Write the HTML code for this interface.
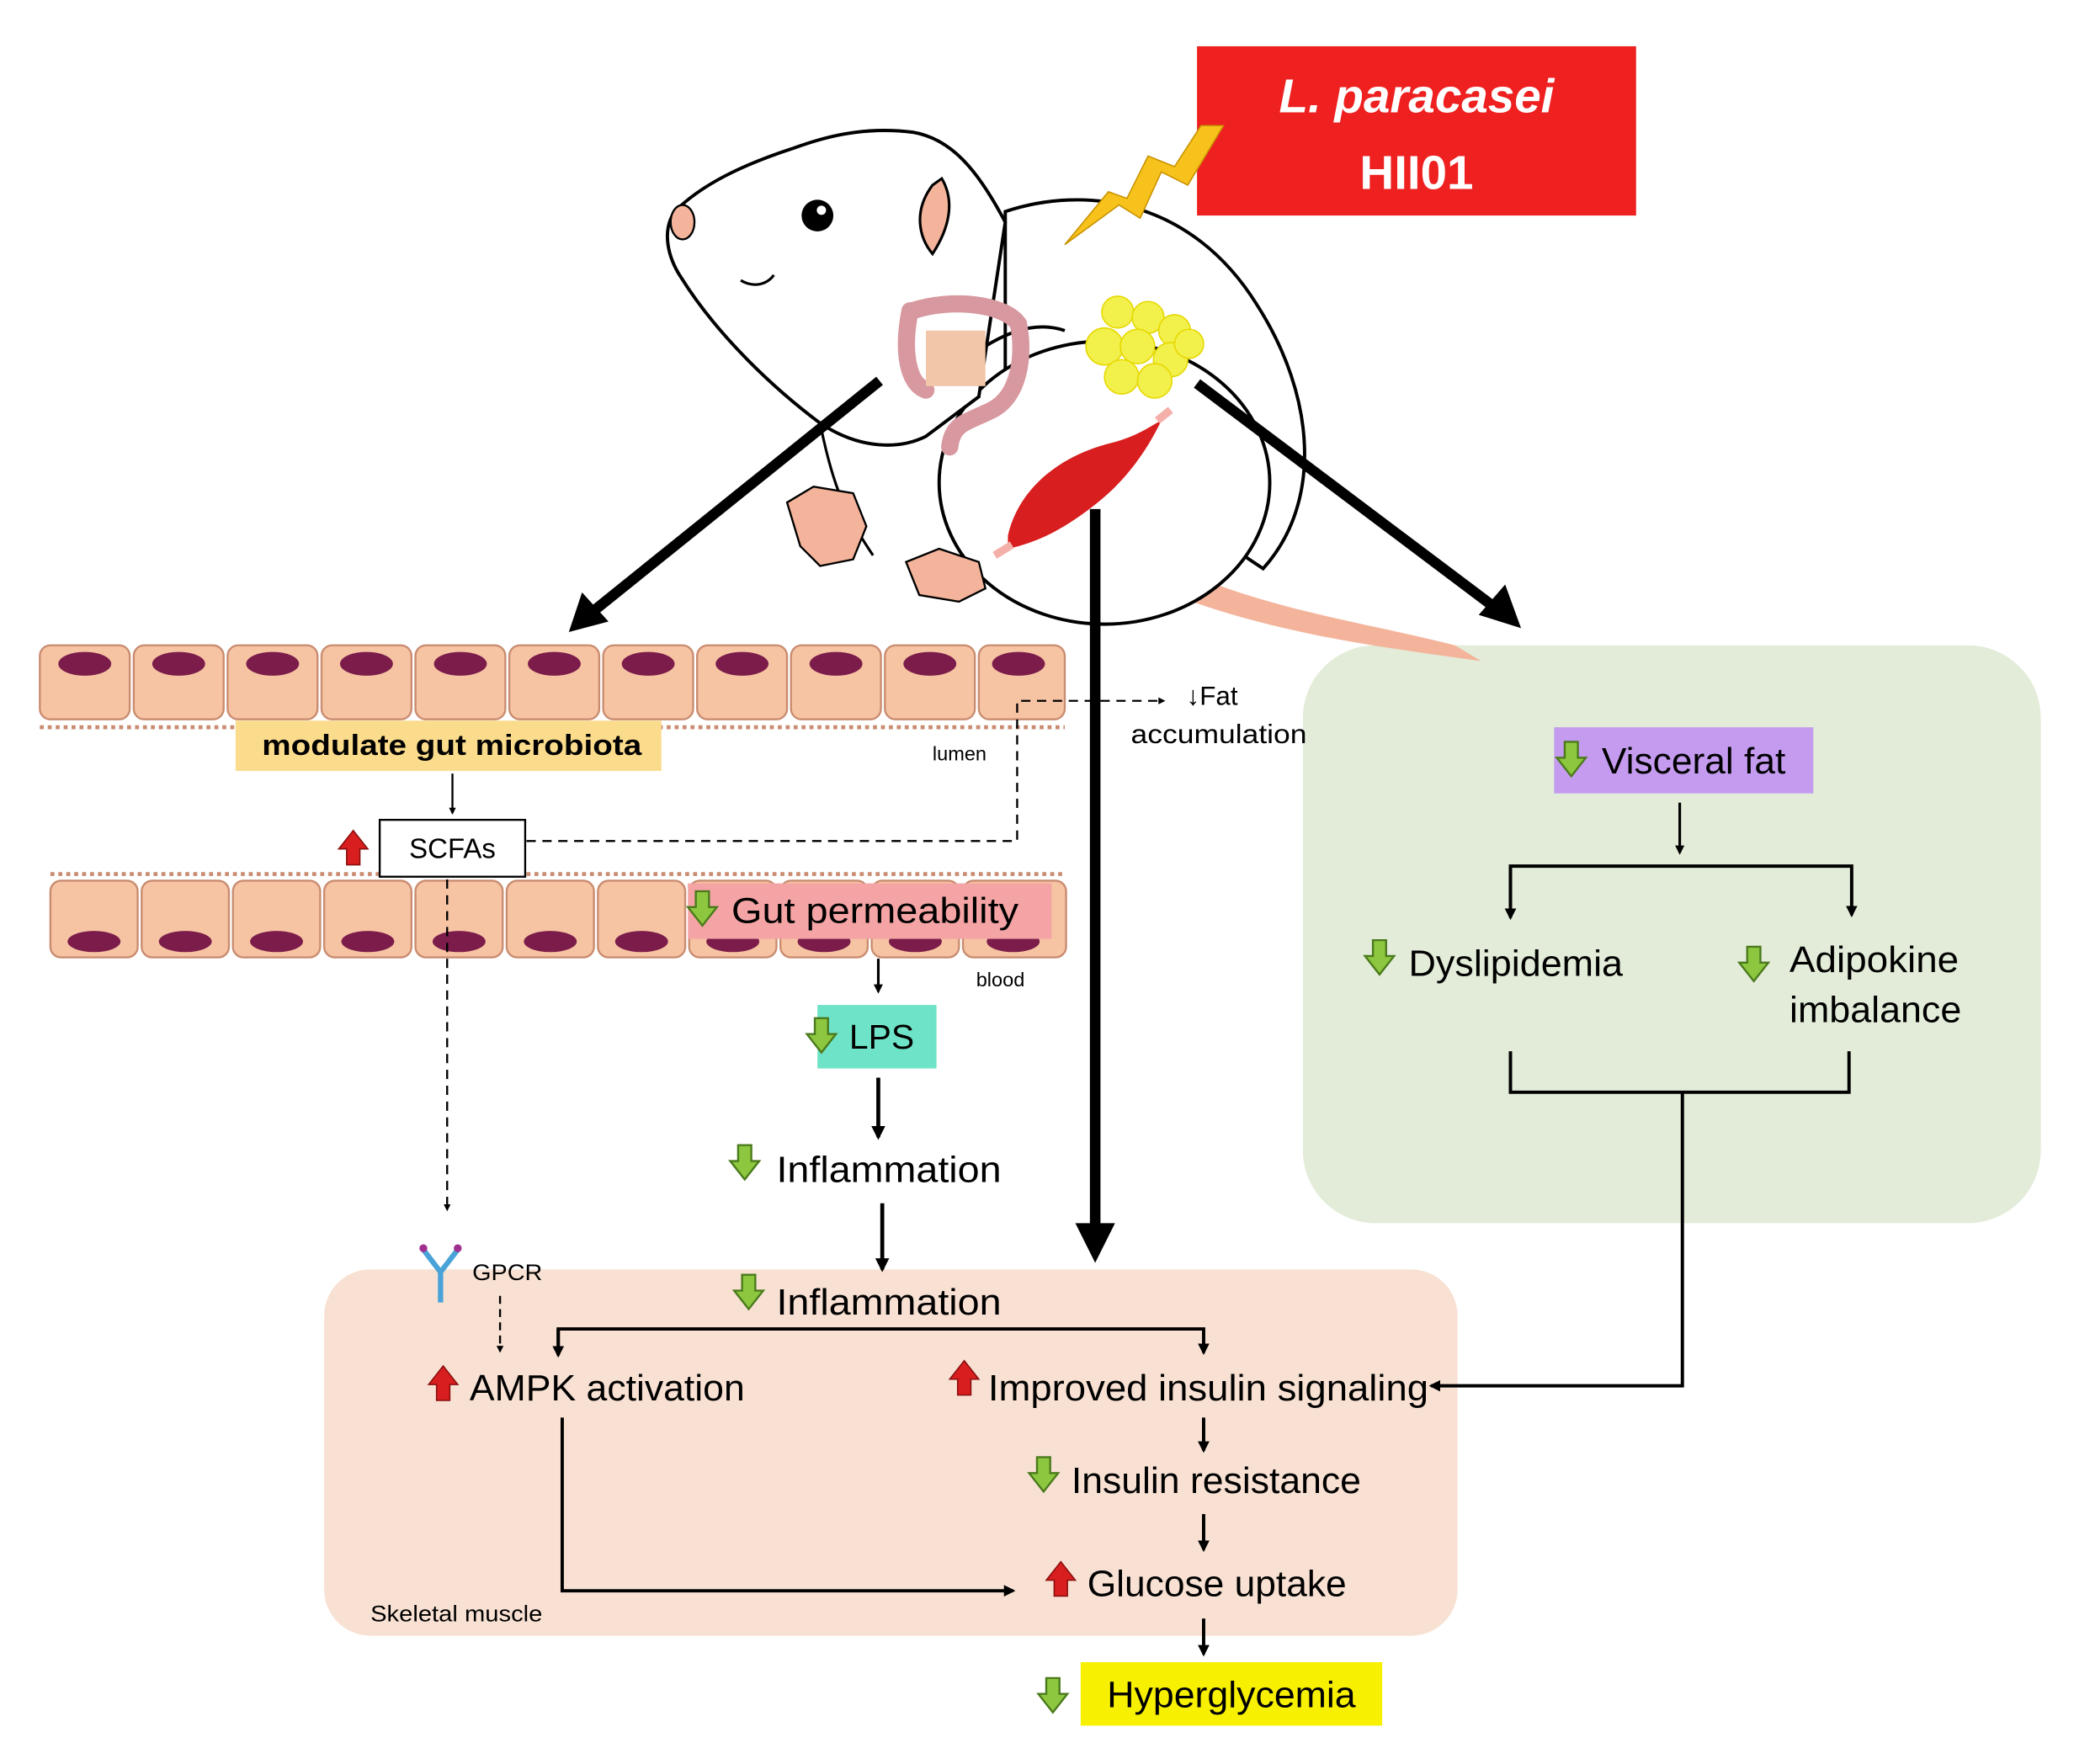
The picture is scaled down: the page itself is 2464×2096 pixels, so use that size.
<!DOCTYPE html>
<html><head><meta charset="utf-8"><style>
html,body{margin:0;padding:0;background:#fff}
svg{display:block}
text{font-family:"Liberation Sans",sans-serif}
</style></head><body>
<svg width="2464" height="2096" viewBox="0 0 1568 1334" xmlns="http://www.w3.org/2000/svg">
<defs>
<marker id="ahb" viewBox="0 0 10 10" refX="8" refY="5" markerWidth="3.5" markerHeight="3.5" orient="auto"><path d="M0,0 L10,5 L0,10 z" fill="#000"/></marker>
<g id="gdn"><path d="M-5,-14 h10 v12 h6 l-11,14 l-11,-14 h6 z" fill="#8dc63f" stroke="#4a7a1c" stroke-width="1.5"/></g>
<g id="rup"><path d="M-5,14 h10 v-12 h6 l-11,-14 l-11,14 h6 z" fill="#d81e1e" stroke="#8a0f0f" stroke-width="1"/></g>
</defs>
<rect width="1568" height="1334" fill="#fff"/>

<!-- panels -->
<rect x="985" y="488" width="558" height="437" rx="55" fill="#e2ecd9"/>
<rect x="245" y="960" width="857" height="277" rx="35" fill="#f8e1d3"/>

<!-- mouse -->
<path d="M880,425 C950,460 1030,470 1100,488 L1120,500 C1050,490 960,480 875,445 Z" fill="#f4b49b"/>
<path d="M760,160 C820,140 900,150 950,230 C995,300 1000,380 955,430 L760,300 Z" fill="#fff" stroke="#000" stroke-width="2.5"/>
<ellipse cx="835" cy="365" rx="125" ry="107" fill="#fff" stroke="#000" stroke-width="2.5"/>
<path d="M760,168 C740,130 720,105 690,100 C650,95 620,105 600,112 C560,125 530,140 510,160 C500,175 505,195 515,210 C540,250 580,290 620,320 C650,340 680,340 700,330 L740,300 Z" fill="#fff" stroke="#000" stroke-width="2.5"/>
<path d="M620,320 C630,370 640,390 660,420" fill="none" stroke="#000" stroke-width="2"/>
<path d="M740,265 C770,245 790,245 805,250" fill="none" stroke="#000" stroke-width="2.5"/>
<ellipse cx="516" cy="168" rx="9" ry="13" fill="#f4b49b" stroke="#000" stroke-width="1.5"/>
<path d="M705,140 C690,160 695,180 705,192 C718,172 722,152 712,135 Z" fill="#f4b49b" stroke="#000" stroke-width="2"/>
<circle cx="618" cy="163" r="12" fill="#000"/><circle cx="621" cy="159" r="3.5" fill="#fff"/>
<path d="M560,212 C570,218 580,215 585,208" fill="none" stroke="#000" stroke-width="2"/>
<!-- paws -->
<path d="M595,380 l20,-12 l30,5 l10,25 l-10,25 l-25,5 l-15,-15 z" fill="#f4b49b" stroke="#000" stroke-width="1.5"/>
<path d="M685,425 l25,-10 l30,10 l5,20 l-20,10 l-30,-5 z" fill="#f4b49b" stroke="#000" stroke-width="1.5"/>
<!-- gut -->
<path d="M688,235 C682,265 686,290 700,295 M690,235 C720,225 760,230 770,245 C775,270 770,300 750,310 C730,320 720,320 718,338" fill="none" stroke="#d8989f" stroke-width="13" stroke-linecap="round"/>
<rect x="700" y="250" width="45" height="42" fill="#f2c6a8"/>
<!-- fat -->
<g fill="#f2f04a" stroke="#e6d800" stroke-width="1">
<circle cx="845" cy="236" r="12"/><circle cx="868" cy="240" r="12"/><circle cx="888" cy="250" r="12"/>
<circle cx="835" cy="262" r="14"/><circle cx="860" cy="262" r="13"/><circle cx="885" cy="272" r="13"/>
<circle cx="848" cy="285" r="13"/><circle cx="873" cy="288" r="13"/><circle cx="899" cy="260" r="11"/>
</g>
<!-- muscle -->
<path d="M762,405 C770,370 800,345 840,335 C860,330 870,322 878,318 C870,335 855,360 830,380 C805,400 785,410 762,415 Z" fill="#d81e1e"/>
<path d="M875,318 L885,310 M765,412 L752,420" stroke="#f4b0a8" stroke-width="6"/>

<!-- red title box -->
<rect x="905" y="35" width="332" height="128" fill="#ee2020"/>
<text x="1071" y="85" text-anchor="middle" fill="#fff" font-size="36" font-weight="bold" font-style="italic">L. paracasei</text>
<text x="1071" y="143" text-anchor="middle" fill="#fff" font-size="36" font-weight="bold">HII01</text>
<!-- lightning -->
<path d="M925,95 L898,140 L878,130 L862,165 L846,155 L805,185 L838,145 L852,150 L868,118 L888,126 L908,95 Z" fill="#f7c21b" stroke="#c89200" stroke-width="1"/>

<!-- big arrows -->
<line x1="665" y1="288" x2="445" y2="465" stroke="#000" stroke-width="8"/>
<path d="M430,478 L440,448 L460,470 Z" fill="#000"/>
<line x1="905" y1="290" x2="1135" y2="463" stroke="#000" stroke-width="8"/>
<path d="M1150,475 L1118,465 L1138,442 Z" fill="#000"/>
<line x1="828" y1="385" x2="828" y2="928" stroke="#000" stroke-width="8"/>
<path d="M813,925 L843,925 L828,955 Z" fill="#000"/>

<!-- epithelium top -->
<g fill="#f6c3a3" stroke="#c98c70" stroke-width="1.5">
<rect x="30" y="488" width="68" height="56" rx="8"/><rect x="101" y="488" width="68" height="56" rx="8"/><rect x="172" y="488" width="68" height="56" rx="8"/><rect x="243" y="488" width="68" height="56" rx="8"/><rect x="314" y="488" width="68" height="56" rx="8"/><rect x="385" y="488" width="68" height="56" rx="8"/><rect x="456" y="488" width="68" height="56" rx="8"/><rect x="527" y="488" width="68" height="56" rx="8"/><rect x="598" y="488" width="68" height="56" rx="8"/><rect x="669" y="488" width="68" height="56" rx="8"/><rect x="740" y="488" width="65" height="56" rx="8"/>
</g>
<g fill="#7b1c4a">
<ellipse cx="64" cy="502" rx="20" ry="9"/><ellipse cx="135" cy="502" rx="20" ry="9"/><ellipse cx="206" cy="502" rx="20" ry="9"/><ellipse cx="277" cy="502" rx="20" ry="9"/><ellipse cx="348" cy="502" rx="20" ry="9"/><ellipse cx="419" cy="502" rx="20" ry="9"/><ellipse cx="490" cy="502" rx="20" ry="9"/><ellipse cx="561" cy="502" rx="20" ry="9"/><ellipse cx="632" cy="502" rx="20" ry="9"/><ellipse cx="703" cy="502" rx="20" ry="9"/><ellipse cx="770" cy="502" rx="20" ry="9"/>
</g>
<line x1="30" y1="550" x2="805" y2="550" stroke="#c98c70" stroke-width="3" stroke-dasharray="3,3"/>
<!-- epithelium bottom -->
<line x1="38" y1="661" x2="806" y2="661" stroke="#c98c70" stroke-width="3" stroke-dasharray="3,3"/>
<g fill="#f6c3a3" stroke="#c98c70" stroke-width="1.5">
<rect x="38" y="666" width="66" height="58" rx="8"/><rect x="107" y="666" width="66" height="58" rx="8"/><rect x="176" y="666" width="66" height="58" rx="8"/><rect x="245" y="666" width="66" height="58" rx="8"/><rect x="314" y="666" width="66" height="58" rx="8"/><rect x="383" y="666" width="66" height="58" rx="8"/><rect x="452" y="666" width="66" height="58" rx="8"/><rect x="521" y="666" width="66" height="58" rx="8"/><rect x="590" y="666" width="66" height="58" rx="8"/><rect x="659" y="666" width="66" height="58" rx="8"/><rect x="728" y="666" width="78" height="58" rx="8"/>
</g>
<g fill="#7b1c4a">
<ellipse cx="71" cy="712" rx="20" ry="8"/><ellipse cx="140" cy="712" rx="20" ry="8"/><ellipse cx="209" cy="712" rx="20" ry="8"/><ellipse cx="278" cy="712" rx="20" ry="8"/><ellipse cx="347" cy="712" rx="20" ry="8"/><ellipse cx="416" cy="712" rx="20" ry="8"/><ellipse cx="485" cy="712" rx="20" ry="8"/><ellipse cx="554" cy="712" rx="20" ry="8"/><ellipse cx="623" cy="712" rx="20" ry="8"/><ellipse cx="692" cy="712" rx="20" ry="8"/><ellipse cx="766" cy="712" rx="20" ry="8"/>
</g>

<!-- gut labels -->
<rect x="178" y="545" width="322" height="38" fill="#fbdc8c"/>
<text x="198" y="571" font-size="22" font-weight="bold" textLength="287" lengthAdjust="spacingAndGlyphs">modulate gut microbiota</text>
<text x="705" y="575" font-size="15">lumen</text>
<text x="738" y="746" font-size="15">blood</text>
<line x1="342" y1="585" x2="342" y2="615" stroke="#000" stroke-width="1.5" marker-end="url(#ahb)"/>
<rect x="287" y="620" width="110" height="43" fill="#fff" stroke="#000" stroke-width="1.5"/>
<text x="342" y="649" text-anchor="middle" font-size="21">SCFAs</text>
<use href="#rup" x="267" y="640"/>
<path d="M398,636 H769 V530 H880" fill="none" stroke="#000" stroke-width="1.5" stroke-dasharray="7,5" marker-end="url(#ahb)"/>
<text x="897" y="533" font-size="20">↓Fat</text>
<text x="855" y="562" font-size="20" textLength="133" lengthAdjust="spacingAndGlyphs">accumulation</text>
<line x1="338" y1="665" x2="338" y2="915" stroke="#000" stroke-width="1.5" stroke-dasharray="7,5" marker-end="url(#ahb)"/>

<rect x="520" y="668" width="275" height="42" fill="#f4a4a4"/>
<use href="#gdn" x="531" y="688"/>
<text x="553" y="698" font-size="27" textLength="217" lengthAdjust="spacingAndGlyphs">Gut permeability</text>
<line x1="664" y1="725" x2="664" y2="750" stroke="#000" stroke-width="2" marker-end="url(#ahb)"/>
<rect x="618" y="760" width="90" height="48" fill="#6ee3c8"/>
<use href="#gdn" x="621" y="784"/>
<text x="642" y="793" font-size="26">LPS</text>
<line x1="664" y1="815" x2="664" y2="860" stroke="#000" stroke-width="3" marker-end="url(#ahb)"/>
<use href="#gdn" x="563" y="880"/>
<text x="587" y="894" font-size="28" textLength="170" lengthAdjust="spacingAndGlyphs">Inflammation</text>
<line x1="667" y1="910" x2="667" y2="960" stroke="#000" stroke-width="3" marker-end="url(#ahb)"/>

<!-- muscle panel contents -->
<use href="#gdn" x="566" y="978"/>
<text x="587" y="994" font-size="28" textLength="170" lengthAdjust="spacingAndGlyphs">Inflammation</text>
<path d="M422,1023 V1005 H910 V1023" fill="none" stroke="#000" stroke-width="2.5" marker-end="url(#ahb)"/>
<line x1="422" y1="1005" x2="422" y2="1025" stroke="#000" stroke-width="2.5" marker-end="url(#ahb)"/>
<path d="M320,945 L333,962 L346,945 M333,962 V985" fill="none" stroke="#4aa3d8" stroke-width="4"/>
<circle cx="320" cy="944" r="3" fill="#a03090"/><circle cx="346" cy="944" r="3" fill="#a03090"/>
<text x="357" y="968" font-size="17" textLength="53" lengthAdjust="spacingAndGlyphs">GPCR</text>
<line x1="378" y1="980" x2="378" y2="1022" stroke="#000" stroke-width="1.5" stroke-dasharray="6,4" marker-end="url(#ahb)"/>
<use href="#rup" x="335" y="1045"/>
<text x="355" y="1059" font-size="28" textLength="208" lengthAdjust="spacingAndGlyphs">AMPK activation</text>
<use href="#rup" x="729" y="1041"/>
<text x="747" y="1059" font-size="28" textLength="333" lengthAdjust="spacingAndGlyphs">Improved insulin signaling</text>
<path d="M1272,826 V1048 H1082" fill="none" stroke="#000" stroke-width="2.5" marker-end="url(#ahb)"/>
<line x1="910" y1="1072" x2="910" y2="1097" stroke="#000" stroke-width="2.5" marker-end="url(#ahb)"/>
<use href="#gdn" x="789" y="1116"/>
<text x="810" y="1129" font-size="28" textLength="219" lengthAdjust="spacingAndGlyphs">Insulin resistance</text>
<line x1="910" y1="1145" x2="910" y2="1172" stroke="#000" stroke-width="2.5" marker-end="url(#ahb)"/>
<use href="#rup" x="802" y="1193"/>
<text x="822" y="1207" font-size="28" textLength="196" lengthAdjust="spacingAndGlyphs">Glucose uptake</text>
<path d="M425,1072 V1203 H766" fill="none" stroke="#000" stroke-width="2.5" marker-end="url(#ahb)"/>
<text x="280" y="1226" font-size="17" textLength="130" lengthAdjust="spacingAndGlyphs">Skeletal muscle</text>
<line x1="910" y1="1224" x2="910" y2="1251" stroke="#000" stroke-width="2.5" marker-end="url(#ahb)"/>
<use href="#gdn" x="796" y="1283"/>
<rect x="817" y="1257" width="228" height="48" fill="#f7f000"/>
<text x="837" y="1291" font-size="28" textLength="188" lengthAdjust="spacingAndGlyphs">Hyperglycemia</text>

<!-- green panel contents -->
<rect x="1175" y="550" width="196" height="50" fill="#c59bf0"/>
<use href="#gdn" x="1188" y="575"/>
<text x="1211" y="585" font-size="28" textLength="139" lengthAdjust="spacingAndGlyphs">Visceral fat</text>
<line x1="1270" y1="607" x2="1270" y2="645" stroke="#000" stroke-width="2" marker-end="url(#ahb)"/>
<path d="M1142,692 V655 H1400 V692" fill="none" stroke="#000" stroke-width="2.5" marker-end="url(#ahb)"/>
<line x1="1142" y1="655" x2="1142" y2="694" stroke="#000" stroke-width="2.5" marker-end="url(#ahb)"/>
<use href="#gdn" x="1043" y="725"/>
<text x="1065" y="738" font-size="28" textLength="162" lengthAdjust="spacingAndGlyphs">Dyslipidemia</text>
<use href="#gdn" x="1326" y="730"/>
<text x="1353" y="735" font-size="28" textLength="128" lengthAdjust="spacingAndGlyphs">Adipokine</text>
<text x="1353" y="773" font-size="28" textLength="130" lengthAdjust="spacingAndGlyphs">imbalance</text>
<path d="M1142,795 V826 H1398 V795" fill="none" stroke="#000" stroke-width="2.5"/>
</svg>
</body></html>
